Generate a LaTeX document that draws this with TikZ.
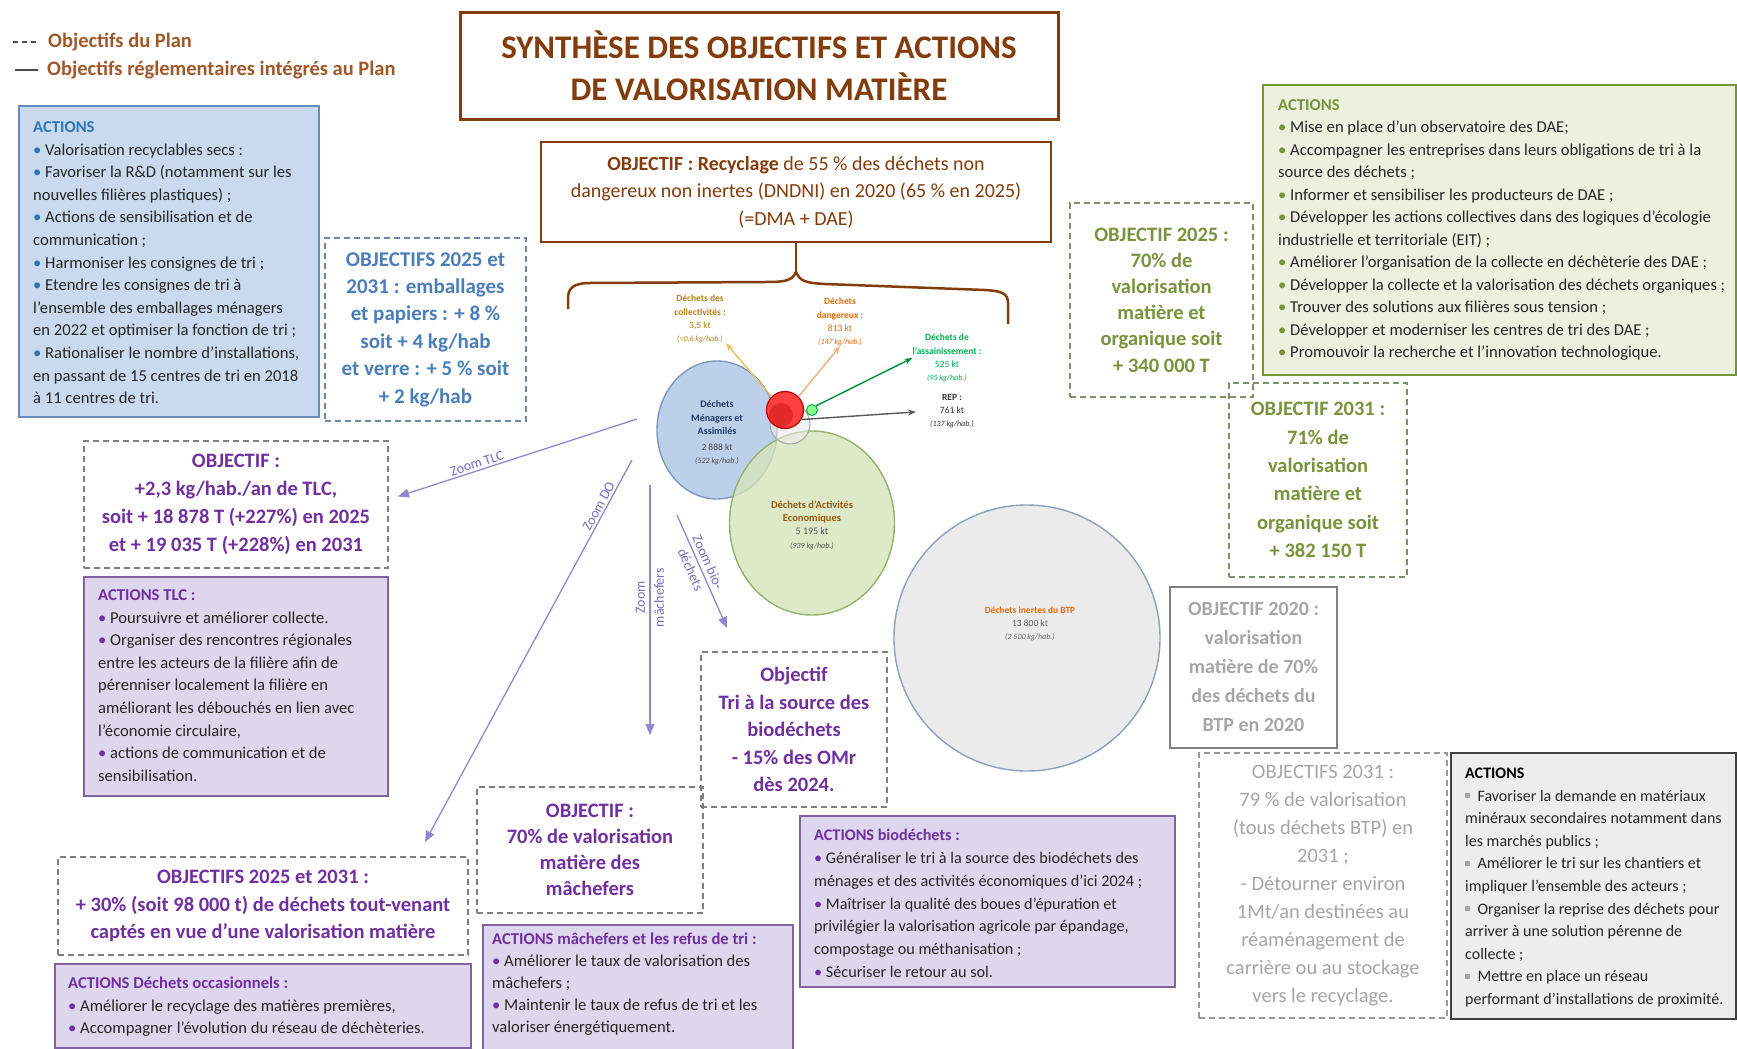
\documentclass[tikz,border=0pt]{standalone}
\usepackage{fontspec}
\setmainfont{Carlito}
\usetikzlibrary{arrows.meta,calc,shapes.geometric}
\definecolor{brownT}{HTML}{843C0C}
\definecolor{brownL}{HTML}{A0582A}
\definecolor{blueT}{HTML}{2E75B6}
\definecolor{blueO}{HTML}{4A7EBB}
\definecolor{blueFill}{HTML}{C9DAEF}
\definecolor{blueBorder}{HTML}{6A8AB8}
\definecolor{blueDash}{HTML}{6F86A6}
\definecolor{purpT}{HTML}{7030A0}
\definecolor{purpFill}{HTML}{DDD6EC}
\definecolor{purpBorder}{HTML}{8064A2}
\definecolor{purpDash}{HTML}{7F7F7F}
\definecolor{greenT}{HTML}{77933C}
\definecolor{greenFill}{HTML}{EBF1DE}
\definecolor{greenDash}{HTML}{7F8F6A}
\definecolor{greyT}{HTML}{A6A6A6}
\definecolor{greyFill}{HTML}{EDEDED}
\definecolor{greyBorder}{HTML}{404040}
\definecolor{bodyT}{HTML}{262626}
\definecolor{zoomC}{HTML}{9088D0}
\definecolor{zoomT}{HTML}{7A6CC4}
\definecolor{dmaFill}{HTML}{BDD0EA}
\definecolor{dmaBorder}{HTML}{7E98BE}
\definecolor{daeFill}{HTML}{D5E4BA}
\definecolor{daeBorder}{HTML}{93B26C}
\definecolor{btpFill}{HTML}{EBEBEB}
\definecolor{btpBorder}{HTML}{8DA0BD}
\definecolor{collC}{HTML}{E3A21A}
\definecolor{dangC}{HTML}{E46C0A}
\definecolor{assC}{HTML}{00B050}
\definecolor{daeT}{HTML}{9A5A10}
\definecolor{dmaT}{HTML}{1F3864}
\newcommand\fbody{\fontsize{16.6}{22.6}\selectfont}
\newcommand\fobj{\fontsize{20.5}{27.5}\selectfont\bfseries}
\newcommand\fleg{\fontsize{20.5}{24}\selectfont\bfseries}
\newcommand\ftitle{\fontsize{33}{42}\selectfont\bfseries}
\newcommand\fsmall{\fontsize{9.5}{13.3}\selectfont}
\newcommand\fitsm{\fontsize{8}{13.3}\selectfont\itshape}
\newcommand\bl[1]{\textcolor{#1}{•}\ }
\newcommand\sqb{\textcolor{greyT}{\rule[0.18em]{0.32em}{0.32em}}\ \ }
\begin{document}
\begin{tikzpicture}[x=1pt,y=-1pt,
  box/.style={anchor=north west, inner sep=0pt, outer sep=0pt},
  dbox/.style={box, draw, dash pattern=on 6pt off 4pt, line width=1.6pt},
  abox/.style={box, draw, line width=2pt},
  txt/.style={anchor=north west, inner sep=0pt, align=left, font=\fbody, text=bodyT},
  zarrow/.style={draw=zoomC, line width=1.3pt, -{Triangle[length=11pt,width=9pt]}},
  zlabel/.style={text=zoomT, font=\fontsize{14}{19}\selectfont, inner sep=2pt},
  carrow/.style={line width=1.4pt, -{Stealth[length=8pt,width=6pt]}},
  clabel/.style={font=\fsmall, align=center, inner sep=0pt},
  legline/.style={line width=1.3pt, draw=black!70},
]
\fill[white] (0,0) rectangle (1737,1049);
\useasboundingbox (0,0) rectangle (1737,1049);

% ---------- legend
\node[anchor=west, inner sep=0pt, font=\fleg, text=brownL] (leg1) at (48,42) {Objectifs du Plan};
\node[anchor=west, inner sep=0pt, font=\fleg, text=brownL] (leg2) at (47,70) {Objectifs réglementaires intégrés au Plan};
\draw[legline, dash pattern=on 5pt off 4pt] ($(leg1.west)+(-35,0)$) -- ($(leg1.west)+(-9,0)$);
\draw[legline] ($(leg2.west)+(-32,0)$) -- ($(leg2.west)+(-9,0)$);

% ---------- title
\node[box, draw=brownT, line width=3pt, minimum width=598pt, minimum height=106pt, font=\ftitle, text=brownT, align=center] (title) at (460,13) {SYNTHÈSE DES OBJECTIFS ET ACTIONS\\DE VALORISATION MATIÈRE};

% ---------- objectif recyclage
\node[box, draw=brownT, line width=1.8pt, minimum width=510pt, minimum height=100pt, font=\fontsize{20}{27.5}\selectfont, text=brownT, align=center] (rec) at (541,142) {\textbf{OBJECTIF : Recyclage} de 55 \% des déchets non\\dangereux non inertes (DNDNI) en 2020 (65 \% en 2025)\\(=DMA + DAE)};

% brace
\draw[brownT, line width=2.5pt] (rec.south) -- ++(0,30) coordinate (brtop);
\draw[brownT, line width=2.5pt] (brtop) .. controls +(-4,9) and +(20,0) .. (765,282) -- (590,283) .. controls +(-16,0) and +(0,-10) .. (568,298) -- (568,309);
\draw[brownT, line width=2.5pt] (brtop) .. controls +(4,9) and +(-20,-1) .. (825,284) -- (985,290) .. controls +(16,1) and +(0,-10) .. (1008,303) -- (1008,324);

% ---------- circles
\node[circle, draw=btpBorder, fill=btpFill, line width=1.4pt, minimum size=266pt, inner sep=0pt] (btp) at (1027,638) {};
\node[ellipse, draw=dmaBorder, fill=dmaFill, line width=1.4pt, minimum width=120pt, minimum height=138pt, inner sep=0pt] (dma) at (717,430) {};
\node[ellipse, draw=daeBorder, fill=daeFill, fill opacity=0.8, line width=1.4pt, minimum width=165pt, minimum height=184pt, inner sep=0pt] (dae) at (812,523) {};
\node[circle, draw=black!35, fill=black!8, fill opacity=0.6, line width=1pt, minimum size=40pt, inner sep=0pt] (collc) at (790,424) {};
\node[circle, draw=red!75!black, fill=red!75!white, line width=1.2pt, minimum size=37pt, inner sep=0pt] (dang) at (785,410) {};
\node[circle, fill=red!70!black, fill opacity=0.35, minimum size=24pt, inner sep=0pt] (dangin) at (781,415) {};
\node[circle, draw=assC, fill=green!45!white, line width=1pt, minimum size=11pt, inner sep=0pt] (assc) at (812,410) {};

% circle texts
\node[clabel, text=black!70] (dmatxt) at (717,433) {\textcolor{dmaT}{\bfseries\fontsize{10}{13.5}\selectfont Déchets}\\\textcolor{dmaT}{\bfseries\fontsize{10}{13.5}\selectfont Ménagers et}\\\textcolor{dmaT}{\bfseries\fontsize{10}{13.5}\selectfont Assimilés}\\[3pt]2 888 kt\\{\fitsm (522 kg/hab.)}};
\node[clabel, text=black!65] (daetxt) at (812,525) {\textcolor{daeT}{\bfseries\fontsize{10.5}{15.3}\selectfont Déchets d’Activités}\\\textcolor{daeT}{\bfseries\fontsize{10.5}{15.3}\selectfont Economiques}\\\fontsize{10}{15.3}\selectfont 5 195 kt\\{\fitsm (939 kg/hab.)}};
\node[clabel, text=black!60] (btptxt) at (1030,624) {\textcolor{dangC}{\bfseries Déchets inertes du BTP}\\\fontsize{9.5}{16}\selectfont 13 800 kt\\{\fitsm (2 500 kg/hab.)}};

% labels
\node[clabel, text=collC!80!black] (lblcoll) at (700,319) {\textbf{Déchets des}\\\textbf{collectivités :}\\3,5 kt\\{\fitsm (≈0,6 kg/hab.)}};
\node[clabel, text=dangC] (lbldang) at (840,322) {\textbf{Déchets}\\\textbf{dangereux :}\\813 kt\\{\fitsm (147 kg/hab.)}};
\node[clabel, text=assC] (lblass) at (947,358) {\textbf{Déchets de}\\\textbf{l’assainissement :}\\525 kt\\{\fitsm (95 kg/hab.)}};
\node[clabel, text=black!80] (lblrep) at (952,411) {\textbf{REP :}\\761 kt\\{\fitsm (137 kg/hab.)}};

\draw[carrow, draw=collC!70!white] (dang.north west) -- (lblcoll.south east);
\draw[carrow, draw=dangC!55!white] (dang.north east) -- (lbldang.south);
\draw[carrow, draw=assC!80!black] (assc.north east) -- (lblass.west);
\draw[carrow, draw=black!65, shorten >=14pt] (dang.-30) -- (lblrep.west);

% ---------- left blue actions
\node[abox, draw=blueBorder, fill=blueFill, minimum width=300pt, minimum height=311pt] (actblue) at (19,106) {};
\node[txt] (actbluetxt) at (33,116.5) {\strut\textcolor{blueT}{\bfseries ACTIONS}\\
\bl{blueT}Valorisation recyclables secs :\\
\bl{blueT}Favoriser la R\&D (notamment sur les\\
nouvelles filières plastiques) ;\\
\bl{blueT}Actions de sensibilisation et de\\
communication ;\\
\bl{blueT}Harmoniser les consignes de tri ;\\
\bl{blueT}Etendre les consignes de tri à\\
l’ensemble des emballages ménagers\\
en 2022 et optimiser la fonction de tri ;\\
\bl{blueT}Rationaliser le nombre d’installations,\\
en passant de 15 centres de tri en 2018\\
à 11 centres de tri.};

% emballages objective
\node[dbox, draw=blueDash, minimum width=201pt, minimum height=183pt, font=\fontsize{21}{27.4}\selectfont\bfseries, text=blueO, align=center] (embal) at (325,238) {OBJECTIFS 2025 et\\2031 : emballages\\et papiers : + 8 \%\\soit + 4 kg/hab\\et verre : + 5 \% soit\\+ 2 kg/hab};

% TLC
\node[dbox, draw=purpDash, minimum width=304pt, minimum height=127pt, font=\fontsize{20.5}{28}\selectfont\bfseries, text=purpT, align=center] (objtlc) at (84,441) {OBJECTIF :\\+2,3 kg/hab./an de TLC,\\soit + 18 878 T (+227\%) en 2025\\et + 19 035 T (+228\%) en 2031};
\node[abox, draw=purpBorder, fill=purpFill, minimum width=304pt, minimum height=219pt] (acttlc) at (84,577) {};
\node[txt] (acttlctxt) at (98,584.5) {\strut\textcolor{purpT}{\bfseries ACTIONS TLC :}\\
\bl{purpT}Poursuivre et améliorer collecte.\\
\bl{purpT}Organiser des rencontres régionales\\
entre les acteurs de la filière afin de\\
pérenniser localement la filière en\\
améliorant les débouchés en lien avec\\
l’économie circulaire,\\
\bl{purpT}actions de communication et de\\
sensibilisation.};

% Dechets occasionnels
\node[dbox, draw=purpDash, minimum width=410pt, minimum height=98pt, font=\fontsize{20.5}{27.5}\selectfont\bfseries, text=purpT, align=center] (objdo) at (58,857) {OBJECTIFS 2025 et 2031 :\\+ 30\% (soit 98 000 t) de déchets tout-venant\\captés en vue d’une valorisation matière};
\node[abox, draw=purpBorder, fill=purpFill, minimum width=416pt, minimum height=84pt] (actdo) at (55,964) {};
\node[txt] (actdotxt) at (68,972.5) {\strut\textcolor{purpT}{\bfseries ACTIONS Déchets occasionnels :}\\
\bl{purpT}Améliorer le recyclage des matières premières,\\
\bl{purpT}Accompagner l’évolution du réseau de déchèteries.};

% machefers
\node[dbox, draw=purpDash, minimum width=226pt, minimum height=126pt, font=\fontsize{20.5}{26}\selectfont\bfseries, text=purpT, align=center] (objmach) at (477,787) {OBJECTIF :\\70\% de valorisation\\matière des\\mâchefers};
\node[abox, draw=purpBorder, fill=purpFill, minimum width=310pt, minimum height=126pt] (actmach) at (483,925) {};
\node[txt, font=\fontsize{16.6}{21.8}\selectfont] (actmachtxt) at (492,929.5) {\strut\textcolor{purpT}{\bfseries ACTIONS mâchefers et les refus de tri :}\\
\bl{purpT}Améliorer le taux de valorisation des\\
mâchefers ;\\
\bl{purpT}Maintenir le taux de refus de tri et les\\
valoriser énergétiquement.};

% biodechets
\node[dbox, draw=purpDash, minimum width=186pt, minimum height=155pt, font=\fontsize{20.5}{27.5}\selectfont\bfseries, text=purpT, align=center] (objbio) at (701,652) {Objectif\\Tri à la source des\\biodéchets\\- 15\% des OMr\\dès 2024.};
\node[abox, draw=purpBorder, fill=purpFill, minimum width=375pt, minimum height=171pt] (actbio) at (800,816) {};
\node[txt, font=\fontsize{16.2}{22.8}\selectfont] (actbiotxt) at (814,824.5) {\strut\textcolor{purpT}{\bfseries ACTIONS biodéchets :}\\
\bl{purpT}Généraliser le tri à la source des biodéchets des\\
ménages et des activités économiques d’ici 2024 ;\\
\bl{purpT}Maîtriser la qualité des boues d’épuration et\\
privilégier la valorisation agricole par épandage,\\
compostage ou méthanisation ;\\
\bl{purpT}Sécuriser le retour au sol.};

% zoom arrows
\coordinate (ztlc) at (637,419);
\coordinate (zdo) at (632,460);
\coordinate (zma) at (650,485);
\coordinate (zbi) at (677,515);
\draw[zarrow] (ztlc) -- ($(objtlc.east)+(10,-8)$) node[zlabel, pos=0.66, sloped, above] {Zoom TLC};
\draw[zarrow] (zdo) -- ($(objdo.north east)+(-43,-15)$) node[zlabel, pos=0.13, sloped, above] {Zoom DO};
\draw[zarrow] (zma) -- ($(objmach.north)+(60,-52)$) node[zlabel, pos=0.45, rotate=90, align=center, inner sep=0pt] {Zoom\\mâchefers};
\draw[zarrow] (zbi) -- ($(objbio.north west)+(26,-24)$) node[zlabel, pos=0.45, sloped, align=center, inner sep=0pt] {Zoom bio-\\déchets};

% ---------- right green
\node[abox, draw=greenT, fill=greenFill, minimum width=473pt, minimum height=290pt] (actgreen) at (1263,85) {};
\node[txt, font=\fontsize{16.6}{22.5}\selectfont] (actgreentxt) at (1278,94.5) {\strut\textcolor{greenT}{\bfseries ACTIONS}\\
\bl{greenT}Mise en place d’un observatoire des DAE;\\
\bl{greenT}Accompagner les entreprises dans leurs obligations de tri à la\\
source des déchets ;\\
\bl{greenT}Informer et sensibiliser les producteurs de DAE ;\\
\bl{greenT}Développer les actions collectives dans des logiques d’écologie\\
industrielle et territoriale (EIT) ;\\
\bl{greenT}Améliorer l’organisation de la collecte en déchèterie des DAE ;\\
\bl{greenT}Développer la collecte et la valorisation des déchets organiques ;\\
\bl{greenT}Trouver des solutions aux filières sous tension ;\\
\bl{greenT}Développer et moderniser les centres de tri des DAE ;\\
\bl{greenT}Promouvoir la recherche et l’innovation technologique.};

\node[dbox, draw=greenDash, minimum width=183pt, minimum height=194pt, font=\fontsize{20.5}{26.2}\selectfont\bfseries, text=greenT, align=center] (obj25) at (1070,203) {OBJECTIF 2025 :\\70\% de\\valorisation\\matière et\\organique soit\\+ 340 000 T};
\node[dbox, draw=greenDash, minimum width=178pt, minimum height=194pt, font=\fontsize{20.5}{28.4}\selectfont\bfseries, text=greenT, align=center] (obj31) at (1229,383) {OBJECTIF 2031 :\\71\% de\\valorisation\\matière et\\organique soit\\+ 382 150 T};

% ---------- BTP
\node[box, draw=black!50, line width=2pt, minimum width=167pt, minimum height=161pt, font=\fontsize{20}{29}\selectfont\bfseries, text=greyT, align=center] (obj20) at (1170,587) {OBJECTIF 2020 :\\valorisation\\matière de 70\%\\des déchets du\\BTP en 2020};
\node[dbox, draw=black!40, minimum width=248pt, minimum height=265pt, font=\fontsize{20.5}{27.9}\selectfont, text=greyT, align=center] (objbtp) at (1199,753) {OBJECTIFS 2031 :\\79 \% de valorisation\\(tous déchets BTP) en\\2031 ;\\- Détourner environ\\1Mt/an destinées au\\réaménagement de\\carrière ou au stockage\\vers le recyclage.};
\node[abox, draw=greyBorder, fill=greyFill, line width=2.5pt, minimum width=285pt, minimum height=266pt] (actgrey) at (1451,753) {};
\node[txt, font=\fontsize{16}{22.6}\selectfont] (actgreytxt) at (1465,762.5) {\strut\textcolor{black}{\bfseries ACTIONS}\\
\sqb Favoriser la demande en matériaux\\
minéraux secondaires notamment dans\\
les marchés publics ;\\
\sqb Améliorer le tri sur les chantiers et\\
impliquer l’ensemble des acteurs ;\\
\sqb Organiser la reprise des déchets pour\\
arriver à une solution pérenne de\\
collecte ;\\
\sqb Mettre en place un réseau\\
performant d’installations de proximité.};
\end{tikzpicture}
\end{document}
